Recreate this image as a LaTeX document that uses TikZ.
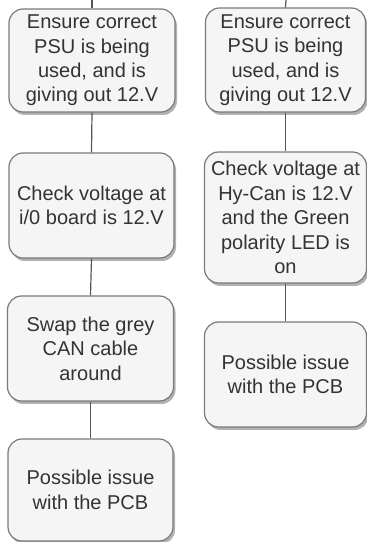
\documentclass[tikz,border=0pt]{standalone}
\usepackage{fontspec}
\setmainfont{Liberation Sans}
\usetikzlibrary{shadows}
\definecolor{boxfill}{HTML}{F5F5F5}
\definecolor{boxline}{HTML}{7A7A7A}
\definecolor{txt}{HTML}{333333}
\definecolor{conn}{HTML}{555555}
\begin{document}
\begin{tikzpicture}[x=1pt,y=1pt,
  stepbox/.style={draw=boxline, fill=boxfill, rounded corners=14pt, line width=1.2pt,
    align=center, text=txt, font=\fontsize{20}{24.4}\selectfont, inner sep=0pt,
    drop shadow={shadow xshift=2pt, shadow yshift=-3pt, fill=black, opacity=0.3}},
  link/.style={draw=conn, line width=1.2pt}]
\useasboundingbox (0,0) rectangle (367,542);
% left column
\node[stepbox, minimum width=166pt, minimum height=103pt] (l1) at (92,481.5)
  {Ensure correct\\PSU is being\\used, and is\\giving out 12.V};
\node[stepbox, minimum width=165pt, minimum height=105pt] (l2) at (91.5,336.5)
  {Check voltage at\\i/0 board is 12.V};
\node[stepbox, minimum width=166pt, minimum height=105pt] (l3) at (90.5,193.5)
  {Swap the grey\\CAN cable\\around};
\node[stepbox, minimum width=165pt, minimum height=102pt] (l4) at (90.5,52)
  {Possible issue\\with the PCB};
% right column
\node[stepbox, minimum width=160pt, minimum height=104pt] (r1) at (285.5,482)
  {Ensure correct\\PSU is being\\used, and is\\giving out 12.V};
\node[stepbox, minimum width=162pt, minimum height=131pt] (r2) at (285.5,324.5)
  {Check voltage at\\Hy-Can is 12.V\\and the Green\\polarity LED is\\on};
\node[stepbox, minimum width=162pt, minimum height=105pt] (r3) at (285.5,167.5)
  {Possible issue\\with the PCB};
\coordinate (lt) at (92,542);
\coordinate (rt) at (286,542);
\draw[link] (lt) -- (l1.north);
\draw[link] (l1.south) -- (l2.north);
\draw[link] (l2.south) -- (l3.north);
\draw[link] (l3.south) -- (l4.north);
\draw[link] (rt) -- (r1.north);
\draw[link] (r1.south) -- (r2.north);
\draw[link] (r2.south) -- (r3.north);
\end{tikzpicture}
\end{document}
